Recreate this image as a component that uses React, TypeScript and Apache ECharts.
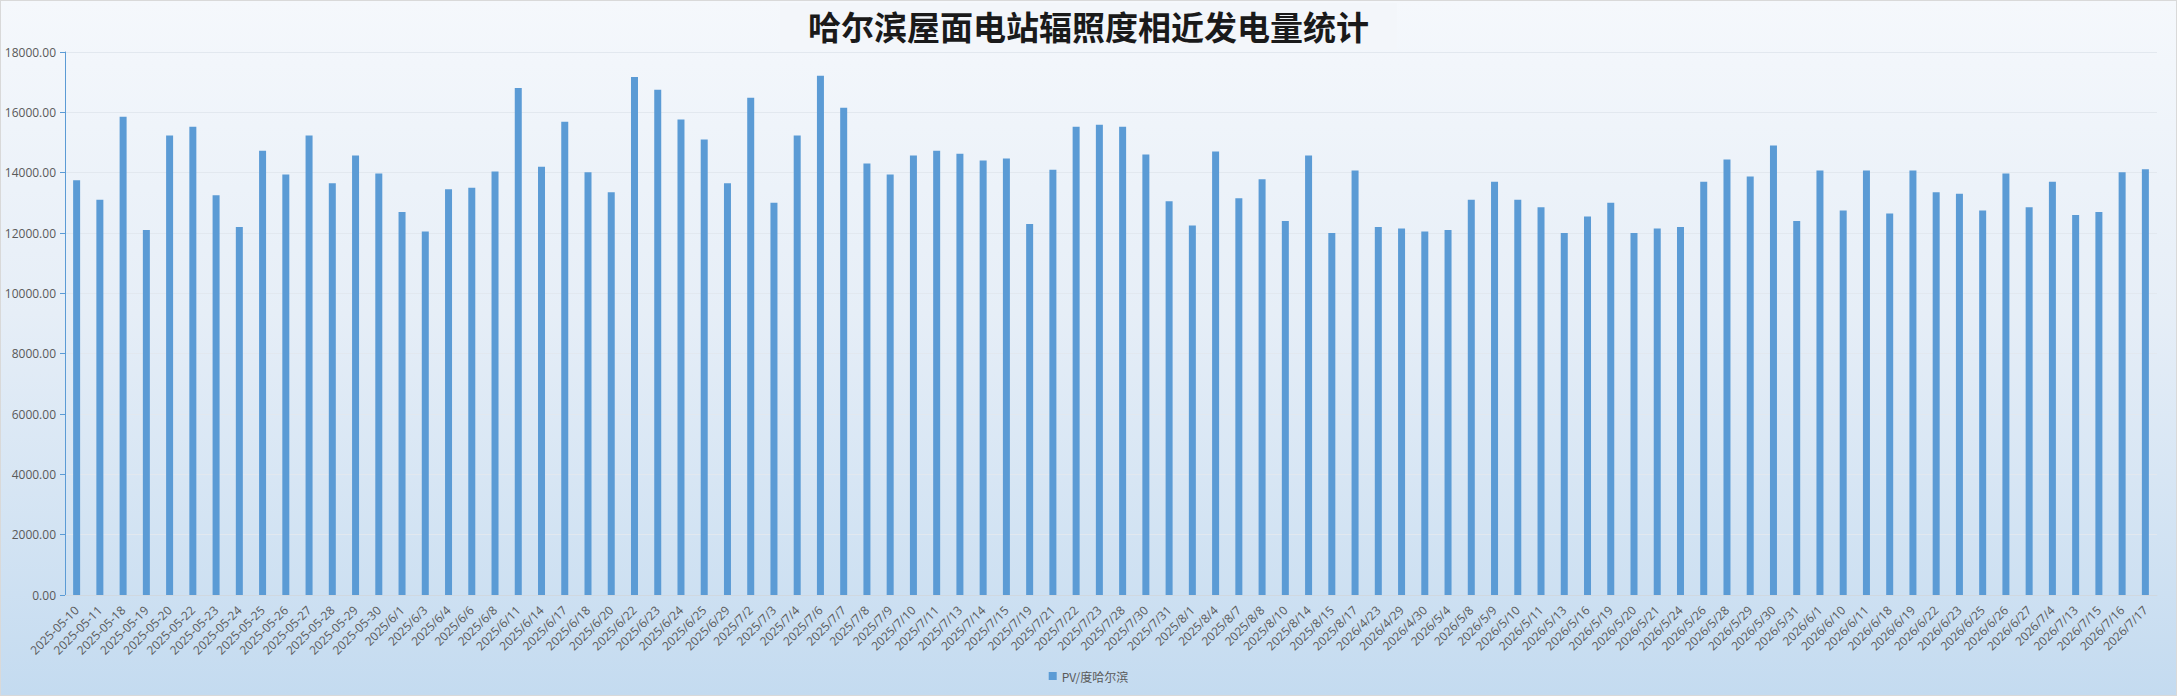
import React, { useEffect, useRef } from "react";
import * as echarts from "echarts";

const titleText = "哈尔滨屋面电站辐照度相近发电量统计";
const seriesName = "PV/度哈尔滨";

const categories = [
  "2025-05-10", "2025-05-11", "2025-05-18", "2025-05-19", "2025-05-20", "2025-05-22", "2025-05-23",
  "2025-05-24", "2025-05-25", "2025-05-26", "2025-05-27", "2025-05-28", "2025-05-29", "2025-05-30",
  "2025/6/1", "2025/6/3", "2025/6/4", "2025/6/6", "2025/6/8", "2025/6/11", "2025/6/14", "2025/6/17",
  "2025/6/18", "2025/6/20", "2025/6/22", "2025/6/23", "2025/6/24", "2025/6/25", "2025/6/29",
  "2025/7/2", "2025/7/3", "2025/7/4", "2025/7/6", "2025/7/7", "2025/7/8", "2025/7/9", "2025/7/10",
  "2025/7/11", "2025/7/13", "2025/7/14", "2025/7/15", "2025/7/19", "2025/7/21", "2025/7/22",
  "2025/7/23", "2025/7/28", "2025/7/30", "2025/7/31", "2025/8/1", "2025/8/4", "2025/8/7", "2025/8/8",
  "2025/8/10", "2025/8/14", "2025/8/15", "2025/8/17", "2026/4/23", "2026/4/29", "2026/4/30",
  "2026/5/4", "2026/5/8", "2026/5/9", "2026/5/10", "2026/5/11", "2026/5/13", "2026/5/16", "2026/5/19",
  "2026/5/20", "2026/5/21", "2026/5/24", "2026/5/26", "2026/5/28", "2026/5/29", "2026/5/30",
  "2026/5/31", "2026/6/1", "2026/6/10", "2026/6/11", "2026/6/18", "2026/6/19", "2026/6/22",
  "2026/6/23", "2026/6/25", "2026/6/26", "2026/6/27", "2026/7/4", "2026/7/13", "2026/7/15",
  "2026/7/16", "2026/7/17",
];

const values = [
  13750, 13100, 15850, 12100, 15230, 15520, 13250, 12200, 14730, 13940, 15230, 13650, 14570, 13970,
  12700, 12050, 13450, 13500, 14040, 16810, 14200, 15690, 14010, 13350, 17170, 16750, 15760, 15100, 13650,
  16480, 13000, 15230, 17210, 16150, 14300, 13940, 14570, 14730, 14630, 14400, 14470, 12300, 14100, 15520,
  15590, 15520, 14600, 13050, 12250, 14700, 13150, 13780, 12400, 14570, 12000, 14070, 12200, 12150, 12050,
  12100, 13100, 13700, 13100, 12850, 12000, 12550, 13000, 12000, 12150, 12200, 13700, 14440, 13870, 14900,
  12400, 14070, 12750, 14070, 12650, 14070, 13350, 13300, 12750, 13970, 12850, 13700, 12600, 12700,
  14010, 14110,
];

const yMin = 0;
const yMax = 18000;
const yInterval = 2000;

export default function App() {
  const ref = useRef<HTMLDivElement>(null);
  useEffect(() => {
    if (!ref.current) return;
    const chart = echarts.init(ref.current, null, { renderer: "svg" });
    chart.setOption({
      animation: false,
      backgroundColor: "transparent",
      title: {
        text: titleText,
        left: "center",
        top: 2,
        padding: [6, 28, 8, 28],
        backgroundColor: "#f3f6fa",
        textStyle: {
          fontFamily: "'Noto Sans CJK SC', serif",
          fontWeight: "bold",
          fontSize: 33,
          color: "#1a1a1a",
        },
      },
      legend: {
        bottom: 8,
        left: "center",
        itemWidth: 8,
        itemHeight: 8,
        icon: "rect",
        textStyle: { color: "#595959", fontSize: 12, fontFamily: "'Noto Sans CJK SC', sans-serif" },
        data: [seriesName],
      },
      grid: { left: 64, right: 19, top: 51, bottom: 100, containLabel: false },
      xAxis: {
        type: "category",
        data: categories,
        axisLine: { lineStyle: { color: "#d0d8e0", width: 1 } },
        axisTick: { show: false },
        axisLabel: {
          interval: 0,
          rotate: 45,
          color: "#595959",
          fontSize: 12,
          margin: 13,
          fontFamily: "'Open Sans', 'DejaVu Sans', sans-serif",
        },
      },
      yAxis: {
        type: "value",
        min: yMin,
        max: yMax,
        interval: yInterval,
        axisLine: { show: true, lineStyle: { color: "#5b9bd5", width: 1 } },
        axisTick: { show: true, length: 5, lineStyle: { color: "#5b9bd5" } },
        axisLabel: {
          color: "#595959",
          fontSize: 12,
          margin: 9,
          fontFamily: "'Open Sans', 'DejaVu Sans', sans-serif",
          formatter: (v: number) => v.toFixed(2),
        },
        splitLine: { show: true, lineStyle: { color: "#e2e8ef", width: 1 } },
      },
      series: [
        {
          name: seriesName,
          type: "bar",
          data: values,
          barWidth: 7,
          itemStyle: { color: "#5b9bd5" },
        },
      ],
    });
    return () => chart.dispose();
  }, []);
  return (
    <div
      style={{
        position: "fixed",
        left: 0,
        top: 0,
        width: 2177,
        height: 696,
        boxSizing: "border-box",
        border: "1px solid #d9d9d9",
        background: "linear-gradient(to bottom, #f5f8fc 0%, #e6eef7 45%, #c4dbf0 100%)",
      }}
    >
      <div ref={ref} style={{ width: "100%", height: "100%" }} />
    </div>
  );
}
